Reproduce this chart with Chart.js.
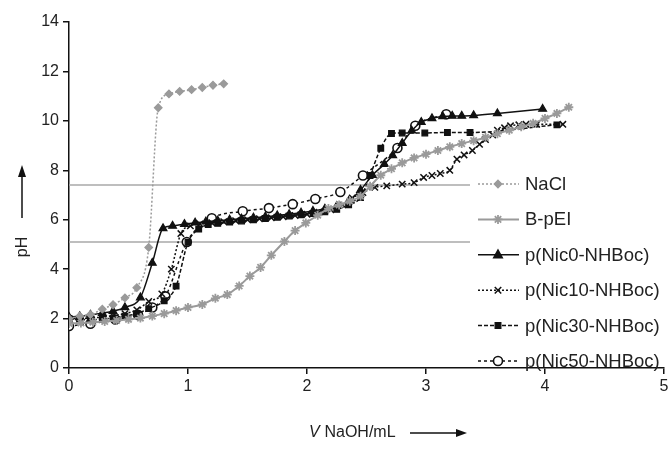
<!DOCTYPE html>
<html lang="en">
<head>
    <meta charset="UTF-8">
    <title>pH titration curves</title>
    <script src="https://cdn.jsdelivr.net/npm/chart.js@4.4.0/dist/chart.umd.min.js"></script>
    <style>
        * { margin: 0; padding: 0; box-sizing: border-box; }
        body { background: #fff; width: 672px; height: 464px; overflow: hidden; }
        #wrap { position: relative; width: 672px; height: 464px; }
    </style>
</head>
<body>
    <div id="wrap"><canvas id="chart" width="672" height="464"></canvas></div>

    <script>
        // Titration data: volume of NaOH (mL) and pH
        const naclV  = [0, 0.09, 0.18, 0.28, 0.37, 0.47, 0.57, 0.67, 0.75, 0.84, 0.93, 1.03, 1.12, 1.21, 1.3];
        const naclPH = [2.0, 2.1, 2.16, 2.38, 2.56, 2.84, 3.25, 4.88, 10.53, 11.09, 11.19, 11.26, 11.35, 11.44, 11.5];

        const bpeiV  = [0, 0.1, 0.2, 0.3, 0.4, 0.5, 0.6, 0.7, 0.8, 0.9, 1.0, 1.12, 1.23, 1.33, 1.43, 1.52, 1.61, 1.7, 1.81, 1.9, 1.99, 2.09, 2.18, 2.27, 2.36, 2.45, 2.53, 2.62, 2.71, 2.8, 2.9, 3.0, 3.1, 3.2, 3.3, 3.4, 3.5, 3.6, 3.7, 3.8, 3.9, 4.0, 4.1, 4.2];
        const bpeiPH = [1.8, 1.82, 1.85, 1.88, 1.92, 1.97, 2.02, 2.1, 2.2, 2.32, 2.45, 2.57, 2.82, 2.97, 3.32, 3.72, 4.07, 4.56, 5.12, 5.56, 5.87, 6.18, 6.45, 6.6, 6.75, 6.95, 7.35, 7.8, 8.06, 8.3, 8.5, 8.65, 8.8, 8.95, 9.08, 9.2, 9.33, 9.48, 9.62, 9.76, 9.9, 10.1, 10.3, 10.55];

        const nic0V  = [0, 0.09, 0.18, 0.28, 0.37, 0.47, 0.6, 0.7, 0.79, 0.87, 0.97, 1.06, 1.15, 1.25, 1.35, 1.45, 1.55, 1.65, 1.75, 1.85, 1.95, 2.05, 2.15, 2.25, 2.35, 2.45, 2.55, 2.65, 2.72, 2.8, 2.88, 2.96, 3.05, 3.14, 3.22, 3.3, 3.4, 3.6, 3.98];
        const nic0PH = [2.06, 2.09, 2.15, 2.22, 2.3, 2.45, 2.85, 4.25, 5.65, 5.75, 5.82, 5.88, 5.92, 5.96, 6.0, 6.04, 6.08, 6.12, 6.17, 6.22, 6.28, 6.35, 6.44, 6.55, 6.75, 7.2, 7.8, 8.25, 8.6, 9.1, 9.6, 9.95, 10.1, 10.18, 10.2, 10.2, 10.22, 10.3, 10.48];

        const nic10V  = [0, 0.09, 0.18, 0.28, 0.37, 0.47, 0.57, 0.67, 0.78, 0.86, 0.94, 1.02, 1.1, 1.2, 1.3, 1.4, 1.5, 1.6, 1.7, 1.8, 1.9, 2.0, 2.1, 2.2, 2.3, 2.38, 2.47, 2.57, 2.67, 2.8, 2.9, 2.98, 3.05, 3.12, 3.2, 3.26, 3.32, 3.39, 3.45, 3.5, 3.56, 3.6, 3.66, 3.71, 3.78, 3.84, 3.93, 4.15];
        const nic10PH = [2.0, 2.0, 2.02, 2.06, 2.12, 2.2, 2.35, 2.69, 3.0, 4.0, 5.44, 5.75, 5.83, 5.88, 5.92, 5.96, 6.0, 6.04, 6.08, 6.12, 6.17, 6.22, 6.3, 6.4, 6.6, 6.88, 7.1, 7.31, 7.37, 7.44, 7.5, 7.71, 7.79, 7.87, 8.0, 8.45, 8.62, 8.8, 9.05, 9.24, 9.43, 9.62, 9.72, 9.8, 9.84, 9.86, 9.86, 9.86];

        const nic30V  = [0, 0.09, 0.18, 0.28, 0.37, 0.47, 0.57, 0.67, 0.8, 0.9, 1.0, 1.09, 1.17, 1.25, 1.35, 1.45, 1.55, 1.65, 1.75, 1.85, 1.95, 2.05, 2.15, 2.25, 2.35, 2.45, 2.53, 2.62, 2.71, 2.8, 2.99, 3.18, 3.37, 4.1];
        const nic30PH = [2.0, 1.95, 1.95, 1.98, 2.02, 2.1, 2.2, 2.4, 2.72, 3.31, 5.09, 5.62, 5.8, 5.85, 5.9, 5.95, 6.0, 6.05, 6.1, 6.15, 6.2, 6.25, 6.32, 6.42, 6.6, 6.9, 7.79, 8.89, 9.49, 9.51, 9.51, 9.53, 9.53, 9.84];

        const nic50V  = [0, 0.18, 0.39, 0.58, 0.7, 0.81, 0.99, 1.2, 1.46, 1.68, 1.88, 2.07, 2.28, 2.47, 2.76, 2.91, 3.17];
        const nic50PH = [1.7, 1.79, 1.96, 2.15, 2.45, 2.9, 5.1, 6.06, 6.34, 6.47, 6.63, 6.84, 7.12, 7.79, 8.9, 9.8, 10.27];

        // reference pH levels (horizontal lines) and where they stop
        const refLevels = [7.4, 5.1];
        const refEnd = 3.37;

        const seriesNames = ['NaCl', 'B-pEI', 'p(Nic0-NHBoc)', 'p(Nic10-NHBoc)', 'p(Nic30-NHBoc)', 'p(Nic50-NHBoc)'];
        const xTicks = [0, 1, 2, 3, 4, 5];
        const yTicks = [0, 2, 4, 6, 8, 10, 12, 14];

        const FONT = "'Liberation Sans', Arial, sans-serif";
        const GREY = '#9a9a9a';

        function pts(xs, ys) {
            return xs.map((x, i) => ({ x: x, y: ys[i] }));
        }

        function series(label, xs, ys, style) {
            return Object.assign({
                label: label,
                data: pts(xs, ys),
                showLine: true,
                fill: false,
                cubicInterpolationMode: 'monotone',
                borderWidth: 1.5,
                pointBorderWidth: 1.2,
                order: 1
            }, style);
        }

        const datasets = [
            series(seriesNames[0], naclV, naclPH, {
                borderColor: GREY, borderDash: [2, 2], pointStyle: 'rectRot',
                pointRadius: 3.8, pointBackgroundColor: GREY, pointBorderColor: GREY
            }),
            series(seriesNames[1], bpeiV, bpeiPH, {
                borderColor: GREY, borderWidth: 2, pointStyle: 'star',
                pointRadius: 4.5, pointBackgroundColor: GREY, pointBorderColor: GREY, pointBorderWidth: 1.8
            }),
            series(seriesNames[2], nic0V, nic0PH, {
                borderColor: '#111', pointStyle: 'triangle',
                pointRadius: 4.5, pointBackgroundColor: '#111', pointBorderColor: '#111'
            }),
            series(seriesNames[3], nic10V, nic10PH, {
                borderColor: '#111', borderDash: [2, 2], pointStyle: 'crossRot',
                pointRadius: 4.5, pointBackgroundColor: '#111', pointBorderColor: '#111', pointBorderWidth: 1.5
            }),
            series(seriesNames[4], nic30V, nic30PH, {
                borderColor: '#111', borderDash: [4, 2], pointStyle: 'rect',
                pointRadius: 4, pointBackgroundColor: '#111', pointBorderColor: '#111'
            }),
            series(seriesNames[5], nic50V, nic50PH, {
                borderColor: '#111', borderDash: [3, 3], pointStyle: 'circle',
                pointRadius: 4.5, pointBackgroundColor: '#fff', pointBorderColor: '#111', pointBorderWidth: 1.6
            })
        ];

        refLevels.forEach(level => {
            datasets.push({
                label: 'ref ' + level,
                data: [{ x: 0, y: level }, { x: refEnd, y: level }],
                showLine: true,
                borderColor: '#a8a8a8',
                borderWidth: 1.5,
                pointRadius: 0,
                order: 10
            });
        });

        function drawMarker(ctx, ds, x, y) {
            const r = ds.pointRadius;
            ctx.save();
            ctx.setLineDash([]);
            ctx.fillStyle = ds.pointBackgroundColor;
            ctx.strokeStyle = ds.pointBorderColor;
            ctx.lineWidth = ds.pointBorderWidth;
            ctx.beginPath();
            switch (ds.pointStyle) {
                case 'rectRot':
                    ctx.moveTo(x, y - r); ctx.lineTo(x + r, y); ctx.lineTo(x, y + r); ctx.lineTo(x - r, y); ctx.closePath();
                    ctx.fill(); ctx.stroke(); break;
                case 'star':
                    for (let a = 0; a < 4; a++) {
                        const t = a * Math.PI / 4;
                        ctx.moveTo(x - r * Math.cos(t), y - r * Math.sin(t));
                        ctx.lineTo(x + r * Math.cos(t), y + r * Math.sin(t));
                    }
                    ctx.stroke(); break;
                case 'triangle':
                    ctx.moveTo(x, y - r * 1.1); ctx.lineTo(x + r, y + r * 0.7); ctx.lineTo(x - r, y + r * 0.7); ctx.closePath();
                    ctx.fill(); ctx.stroke(); break;
                case 'crossRot':
                    const d = r * 0.72;
                    ctx.moveTo(x - d, y - d); ctx.lineTo(x + d, y + d);
                    ctx.moveTo(x + d, y - d); ctx.lineTo(x - d, y + d);
                    ctx.stroke(); break;
                case 'rect':
                    const s = r * 0.72;
                    ctx.rect(x - s, y - s, 2 * s, 2 * s); ctx.fill(); ctx.stroke(); break;
                default:
                    ctx.arc(x, y, r, 0, Math.PI * 2); ctx.fill(); ctx.stroke();
            }
            ctx.restore();
        }

        // legend inside the plot and the axis titles with arrows
        const decor = {
            id: 'decor',
            afterDraw(chart) {
                const ctx = chart.ctx;
                ctx.save();
                ctx.font = '18.5px ' + FONT;
                ctx.textBaseline = 'middle';
                ctx.fillStyle = '#222';

                for (let i = 0; i < 6; i++) {
                    const ds = chart.data.datasets[i];
                    const y = 184 + i * 35.4;
                    ctx.save();
                    ctx.strokeStyle = ds.borderColor;
                    ctx.lineWidth = ds.borderWidth;
                    ctx.setLineDash(ds.borderDash || []);
                    ctx.beginPath();
                    ctx.moveTo(478, y);
                    ctx.lineTo(519, y);
                    ctx.stroke();
                    ctx.restore();
                    drawMarker(ctx, ds, 498, y);
                    ctx.fillStyle = '#222';
                    ctx.textAlign = 'left';
                    ctx.fillText(seriesNames[i], 525, y + 1);
                }

                // x axis title
                ctx.textAlign = 'left';
                ctx.font = 'italic 16px ' + FONT;
                ctx.fillText('V', 309, 433);
                ctx.font = '16px ' + FONT;
                ctx.fillText(' NaOH/mL', 320, 433);
                ctx.lineWidth = 1.5;
                ctx.strokeStyle = '#111';
                ctx.fillStyle = '#111';
                ctx.beginPath();
                ctx.moveTo(410, 433); ctx.lineTo(458, 433); ctx.stroke();
                ctx.beginPath();
                ctx.moveTo(467, 433); ctx.lineTo(456, 429); ctx.lineTo(456, 437); ctx.closePath(); ctx.fill();

                // y axis title
                ctx.fillStyle = '#222';
                ctx.save();
                ctx.translate(23, 247);
                ctx.rotate(-Math.PI / 2);
                ctx.textAlign = 'center';
                ctx.fillText('pH', 0, 0);
                ctx.restore();
                ctx.fillStyle = '#111';
                ctx.beginPath();
                ctx.moveTo(22, 218); ctx.lineTo(22, 175); ctx.stroke();
                ctx.beginPath();
                ctx.moveTo(22, 165); ctx.lineTo(18, 177); ctx.lineTo(26, 177); ctx.closePath(); ctx.fill();
                ctx.restore();
            }
        };

        new Chart(document.getElementById('chart'), {
            type: 'scatter',
            data: { datasets: datasets },
            options: {
                responsive: false,
                animation: false,
                devicePixelRatio: 1,
                layout: { padding: { top: 22, right: 8, left: 0, bottom: 0 } },
                plugins: { legend: { display: false }, tooltip: { enabled: false } },
                scales: {
                    x: {
                        type: 'linear', min: 0, max: 5,
                        afterFit: s => { s.height = 96; },
                        afterBuildTicks: s => { s.ticks = xTicks.map(v => ({ value: v })); },
                        grid: { display: true, drawOnChartArea: false, color: '#111', tickLength: 6, lineWidth: 1.5 },
                        border: { color: '#111', width: 1.5 },
                        ticks: { color: '#222', font: { family: FONT, size: 16 }, padding: 3 }
                    },
                    y: {
                        type: 'linear', min: 0, max: 14,
                        afterFit: s => { s.width = 69; },
                        afterBuildTicks: s => { s.ticks = yTicks.map(v => ({ value: v })); },
                        grid: { display: true, drawOnChartArea: false, color: '#111', tickLength: 6, lineWidth: 1.5 },
                        border: { color: '#111', width: 1.5 },
                        ticks: { color: '#222', font: { family: FONT, size: 16 }, padding: 4 }
                    }
                }
            },
            plugins: [decor]
        });
    </script>
</body>
</html>
